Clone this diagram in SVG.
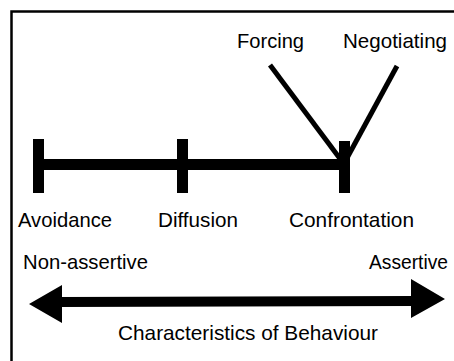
<svg xmlns="http://www.w3.org/2000/svg" width="454" height="361" viewBox="0 0 454 361">
<style>
text{font-family:"Liberation Sans",Arial,sans-serif;font-size:21px;fill:#000}
.bar{stroke:#000;stroke-width:11;fill:none}
.thin{stroke:#000;stroke-width:5;fill:none}
</style>
<rect width="454" height="361" fill="#fff"/>
<path d="M11.5 365 V11.5 H460" stroke="#000" stroke-width="2.5" fill="none"/>
<g id="connectors">
<line class="bar" x1="38.5" y1="164.5" x2="344.5" y2="164.5"/>
<line class="thin" x1="270" y1="65" x2="341" y2="160"/>
<line class="thin" x1="397" y1="66" x2="347" y2="158"/>
<polygon id="axis" points="29,304 62,285 62,297 411,296 411,279 445,299 411,318 411,306 62,307 62,323" fill="#000"/>
</g>
<g id="avoidance"><line class="bar" x1="38.5" y1="139" x2="38.5" y2="193"/><text x="18" y="227" textLength="94" lengthAdjust="spacingAndGlyphs">Avoidance</text></g>
<g id="diffusion"><line class="bar" x1="182.5" y1="139" x2="182.5" y2="193"/><text x="158" y="227" textLength="80" lengthAdjust="spacingAndGlyphs">Diffusion</text></g>
<g id="confrontation"><line class="bar" x1="344.5" y1="141" x2="344.5" y2="193"/><text x="289" y="227" textLength="125" lengthAdjust="spacingAndGlyphs">Confrontation</text></g>
<g id="forcing"><text x="237" y="48" textLength="67" lengthAdjust="spacingAndGlyphs">Forcing</text></g>
<g id="negotiating"><text x="343" y="48" textLength="104" lengthAdjust="spacingAndGlyphs">Negotiating</text></g>
<g id="labels">
<text x="23" y="269" textLength="125" lengthAdjust="spacingAndGlyphs">Non-assertive</text>
<text x="369" y="269" textLength="79" lengthAdjust="spacingAndGlyphs">Assertive</text>
<text x="118" y="340" textLength="260" lengthAdjust="spacingAndGlyphs">Characteristics of Behaviour</text>
</g>
</svg>
